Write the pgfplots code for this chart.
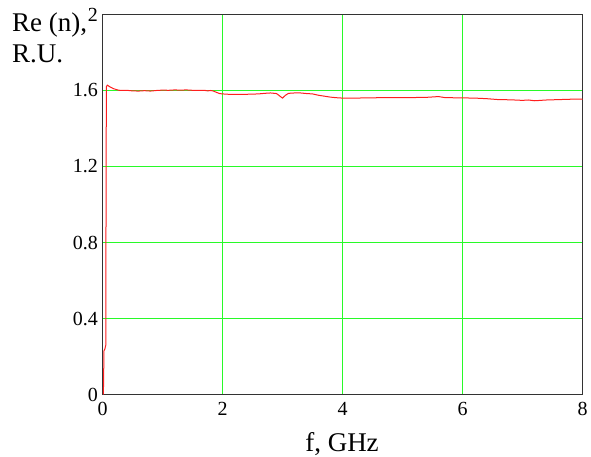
\documentclass[border=0pt]{standalone}
\usepackage{pgfplots}
\pgfplotsset{compat=1.18}
\usepackage{fontspec}
\setmainfont{Liberation Serif}
\definecolor{gridgreen}{RGB}{40,250,40}
\definecolor{curvered}{RGB}{255,30,30}
\begin{document}
\begin{tikzpicture}[x=1pt,y=1pt]
\useasboundingbox (0,0) rectangle (591,457);
\begin{axis}[
  at={(102.5pt,62.5pt)}, anchor=south west,
  scale only axis, width=480pt, height=380pt,
  xmin=0, xmax=8, ymin=0, ymax=2,
  xtick={0,2,4,6,8}, ytick={0,0.4,0.8,1.2,1.6,2},
  yticklabels={0,0.4,0.8,1.2,1.6,2},
  xticklabels={0,2,4,6,8},
  major tick length=0pt,
  xmajorgrids=true, ymajorgrids=true,
  grid style={draw=gridgreen, line width=1pt},
  major grid style={draw=gridgreen, line width=1pt},
  axis line style={black!80, line width=1pt},
  tick label style={font=\fontsize{20}{24}\selectfont},
  xticklabel style={yshift=-4pt},
  yticklabel style={xshift=-1pt},
  /pgf/number format/assume math mode=true,
  clip mode=individual,
]
\addplot[curvered, line width=1pt] coordinates {
(0.015,0.0) (0.02,0.12) (0.025,0.23) (0.04,0.24) (0.055,0.26) (0.06,1.2) (0.065,1.62)
(0.08,1.628) (0.12,1.62) (0.18,1.61) (0.25,1.603) (0.3,1.600) (0.4,1.601)
(0.5,1.598) (0.6,1.597) (0.7,1.599) (0.8,1.597) (0.9,1.600) (1.0,1.602)
(1.1,1.601) (1.2,1.603) (1.3,1.602) (1.4,1.603) (1.5,1.601) (1.6,1.600)
(1.7,1.601) (1.75,1.598) (1.8,1.600) (1.85,1.597) (1.9,1.590) (1.95,1.584)
(2.0,1.582) (2.1,1.580) (2.2,1.580) (2.3,1.579) (2.4,1.580) (2.5,1.581)
(2.6,1.582) (2.7,1.585) (2.8,1.587) (2.9,1.584) (2.95,1.572) (3.0,1.560)
(3.05,1.575) (3.1,1.585) (3.2,1.587) (3.3,1.587) (3.4,1.584) (3.5,1.582)
(3.6,1.575) (3.7,1.570) (3.8,1.565) (3.9,1.562) (4.0,1.560) (4.2,1.560)
(4.4,1.561) (4.6,1.562) (4.8,1.562) (5.0,1.563) (5.2,1.563) (5.4,1.564)
(5.5,1.566) (5.6,1.568) (5.7,1.563) (5.8,1.562) (6.0,1.561) (6.2,1.560)
(6.4,1.557) (6.6,1.552) (6.8,1.551) (7.0,1.548) (7.1,1.550) (7.2,1.546)
(7.3,1.548) (7.4,1.550) (7.6,1.552) (7.8,1.554) (8.0,1.555)
};
\end{axis}
\node[anchor=base west, font=\fontsize{27}{32}\selectfont, inner sep=0pt] at (12,425) {Re (n),};
\node[anchor=base west, font=\fontsize{27}{32}\selectfont, inner sep=0pt] at (12,394) {R.U.};
\node[anchor=base, font=\fontsize{27}{32}\selectfont, inner sep=0pt] at (342,5.5) {f, GHz};
\end{tikzpicture}
\end{document}
